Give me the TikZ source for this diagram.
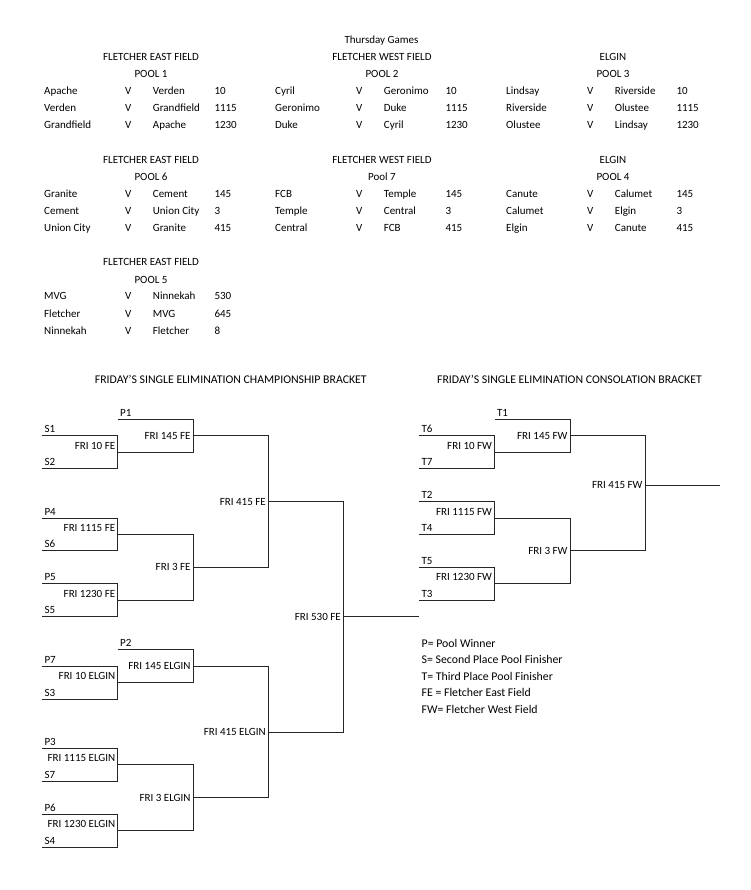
\documentclass[tikz,border=0pt]{standalone}
\usepackage{fontspec}
\setmainfont{Carlito}
\begin{document}
\begin{tikzpicture}[x=1pt,y=-1pt,font=\fontsize{11}{13}\selectfont]
	\tikzstyle{heading}=[anchor=base,inner sep=0pt]
	\tikzstyle{bigheading}=[anchor=base,inner sep=0pt,font=\fontsize{11.8}{14}\selectfont]
	\tikzstyle{cell}=[anchor=base west,inner sep=0pt]
	\tikzstyle{keyline}=[anchor=base west,inner sep=0pt,font=\fontsize{11.8}{14}\selectfont]
	\tikzstyle{seed}=[anchor=base west,inner sep=0pt,xshift=2.3pt,yshift=3pt]
	\tikzstyle{firstgame}=[anchor=base east,inner sep=0pt,xshift=-2.3pt,yshift=3pt]
	\tikzstyle{game}=[anchor=base east,inner sep=0pt,xshift=-2.3pt,yshift=-3.5pt]
	\tikzstyle{bracket}=[draw=black!85,line width=1pt]
	\useasboundingbox (0,0) rectangle (750,890);

	\node [heading] (thursday) at (381.5,43.5) {Thursday Games};
	% pool headings
	\foreach \n/\bx/\by/\field/\pool in {1/0/0/FLETCHER EAST FIELD/POOL 1,2/231/0/FLETCHER WEST FIELD/POOL 2,3/462/0/ELGIN/POOL 3,
			6/0/103/FLETCHER EAST FIELD/POOL 6,7/231/103/FLETCHER WEST FIELD/Pool 7,4/462/103/ELGIN/POOL 4,5/0/205.6/FLETCHER EAST FIELD/POOL 5} {
		\node [heading] (field\n) at (151+\bx,60.2+\by) {\field};
		\node [heading] (pool\n) at (151+\bx,77.5+\by) {\pool};
	}
	% pool games
	\foreach \n/\r/\bx/\by/\home/\away/\time in {1/1/0/0/Apache/Verden/10,1/2/0/0/Verden/Grandfield/1115,1/3/0/0/Grandfield/Apache/1230,
			2/1/231/0/Cyril/Geronimo/10,2/2/231/0/Geronimo/Duke/1115,2/3/231/0/Duke/Cyril/1230,
			3/1/462/0/Lindsay/Riverside/10,3/2/462/0/Riverside/Olustee/1115,3/3/462/0/Olustee/Lindsay/1230,
			6/1/0/103/Granite/Cement/145,6/2/0/103/Cement/Union City/3,6/3/0/103/Union City/Granite/415,
			7/1/231/103/FCB/Temple/145,7/2/231/103/Temple/Central/3,7/3/231/103/Central/FCB/415,
			4/1/462/103/Canute/Calumet/145,4/2/462/103/Calumet/Elgin/3,4/3/462/103/Elgin/Canute/415,
			5/1/0/205.6/MVG/Ninnekah/530,5/2/0/205.6/Fletcher/MVG/645,5/3/0/205.6/Ninnekah/Fletcher/8} {
		\node [cell] (g\n\r-home) at (44+\bx,94.2+17.2*\r-17.2+\by) {\home};
		\node [cell] (g\n\r-v) at (125+\bx,94.2+17.2*\r-17.2+\by) {V};
		\node [cell] (g\n\r-away) at (152.7+\bx,94.2+17.2*\r-17.2+\by) {\away};
		\node [cell] (g\n\r-time) at (214.3+\bx,94.2+17.2*\r-17.2+\by) {\time};
	}

	\node [bigheading] (champtitle) at (230.8,383) {FRIDAY{\char"27}S SINGLE ELIMINATION CHAMPIONSHIP BRACKET};
	\node [bigheading] (constitle) at (569.5,383) {FRIDAY{\char"27}S SINGLE ELIMINATION CONSOLATION BRACKET};

	\begin{scope}[yshift=-419.3pt,y=-16.46pt]
		% championship bracket
		\foreach \s/\x/\k in {P1/117.7/0,S1/42/1,S2/42/3,P4/42/6,S6/42/8,P5/42/10,S5/42/12,
				P2/117.7/14,P7/42/15,S3/42/17,P3/42/20,S7/42/22,P6/42/24,S4/42/26} {
			\coordinate (\s) at (\x,\k);
			\node [seed] (\s-text) at (\s) {\s};
		}
		\foreach \m/\x/\k/\st/\txt in {m10fe/117.7/2/firstgame/FRI 10 FE,m145fe/193/1/game/FRI 145 FE,
				m1115fe/117.7/7/firstgame/FRI 1115 FE,m1230fe/117.7/11/firstgame/FRI 1230 FE,
				m3fe/193/9/game/FRI 3 FE,m415fe/268.3/5/game/FRI 415 FE,m530fe/343.3/12/game/FRI 530 FE,
				m10elgin/117.7/16/firstgame/FRI 10 ELGIN,m145elgin/193/15/game/FRI 145 ELGIN,
				m1115elgin/117.7/21/firstgame/FRI 1115 ELGIN,m1230elgin/117.7/25/firstgame/FRI 1230 ELGIN,
				m3elgin/193/23/game/FRI 3 ELGIN,m415elgin/268.3/19/game/FRI 415 ELGIN} {
			\coordinate (\m) at (\x,\k);
			\node [\st] (\m-text) at (\m) {\txt};
		}
		\coordinate (champion) at (419,12);
		\foreach \a/\b in {S1/m10fe,S2/m10fe,P1/m145fe,m10fe/m145fe,P4/m1115fe,S6/m1115fe,P5/m1230fe,S5/m1230fe,
				m1115fe/m3fe,m1230fe/m3fe,m145fe/m415fe,m3fe/m415fe,m415fe/m530fe,
				P7/m10elgin,S3/m10elgin,P2/m145elgin,m10elgin/m145elgin,P3/m1115elgin,S7/m1115elgin,
				P6/m1230elgin,S4/m1230elgin,m1115elgin/m3elgin,m1230elgin/m3elgin,
				m145elgin/m415elgin,m3elgin/m415elgin,m415elgin/m530fe}
			\draw [bracket] (\a) -| (\b);
		\draw [bracket] (m530fe) -- (champion);

		% consolation bracket
		\foreach \s/\x/\k in {T1/494.5/0,T6/419/1,T7/419/3,T2/419/5,T4/419/7,T5/419/9,T3/419/11} {
			\coordinate (\s) at (\x,\k);
			\node [seed] (\s-text) at (\s) {\s};
		}
		\foreach \m/\x/\k/\st/\txt in {m10fw/494.5/2/firstgame/FRI 10 FW,m145fw/570/1/game/FRI 145 FW,
				m1115fw/494.5/6/firstgame/FRI 1115 FW,m1230fw/494.5/10/firstgame/FRI 1230 FW,
				m3fw/570/8/game/FRI 3 FW,m415fw/645/4/game/FRI 415 FW} {
			\coordinate (\m) at (\x,\k);
			\node [\st] (\m-text) at (\m) {\txt};
		}
		\coordinate (consolation) at (720,4);
		\foreach \a/\b in {T6/m10fw,T7/m10fw,T1/m145fw,m10fw/m145fw,T2/m1115fw,T4/m1115fw,T5/m1230fw,T3/m1230fw,
				m1115fw/m3fw,m1230fw/m3fw,m145fw/m415fw,m3fw/m415fw}
			\draw [bracket] (\a) -| (\b);
		\draw [bracket] (m415fw) -- (consolation);
	\end{scope}

	% key
	\foreach \t [count=\i] in {P= Pool Winner,S= Second Place Pool Finisher,T= Third Place Pool Finisher,
			FE = Fletcher East Field,FW= Fletcher West Field}
		\node [keyline] (key\i) at (421.5,647+16.5*\i-16.5) {\t};
\end{tikzpicture}
\end{document}
